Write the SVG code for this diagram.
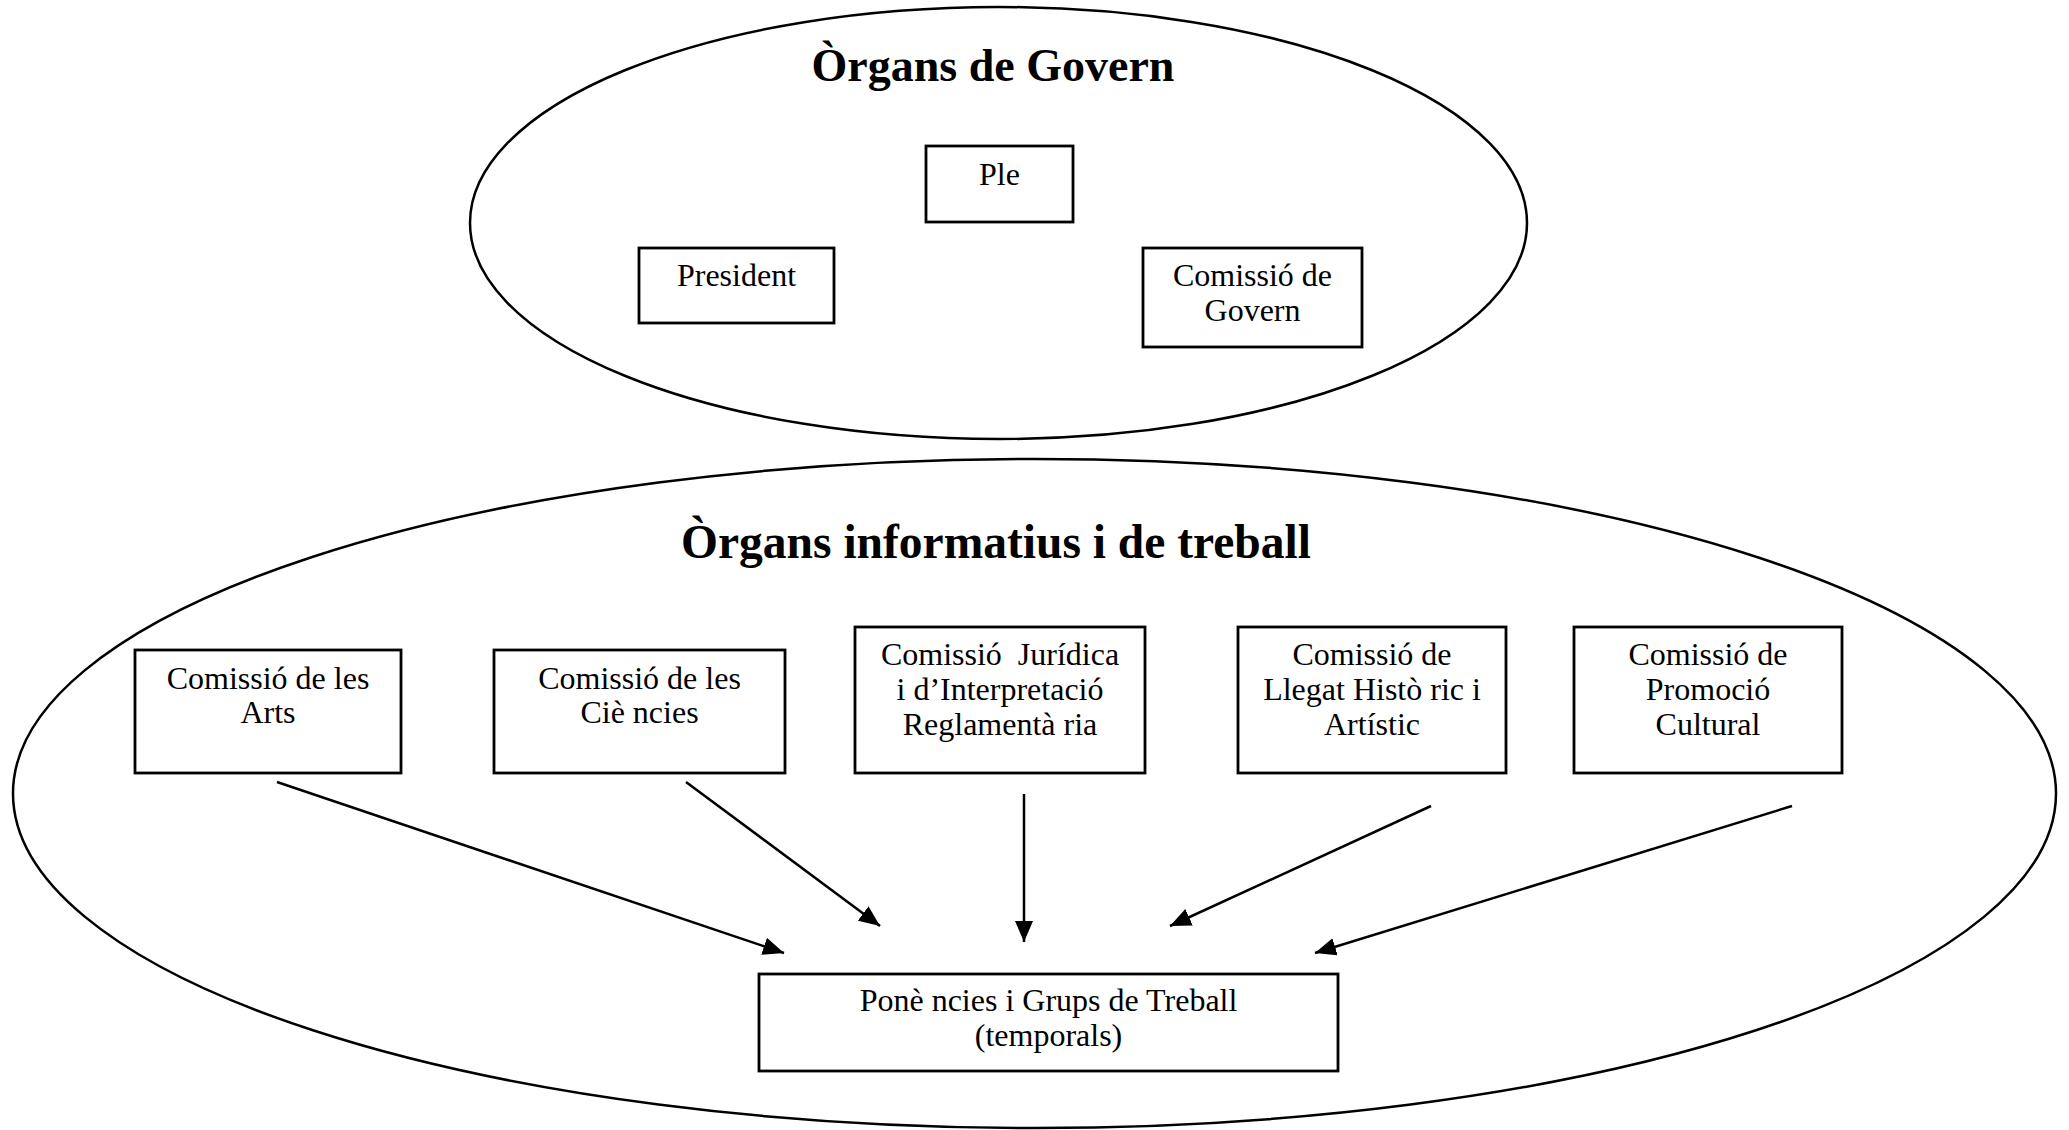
<svg xmlns="http://www.w3.org/2000/svg" width="2069" height="1130" viewBox="0 0 2069 1130">
<style>
.bg{fill:#fff}
.ell{fill:none;stroke:#000;stroke-width:2.5}
.box{fill:#fff;stroke:#000;stroke-width:2.8}
.t{font-family:"Liberation Serif","Times New Roman",serif;font-size:32px;fill:#000;text-anchor:middle}
.title{font-family:"Liberation Serif","Times New Roman",serif;font-size:46px;font-weight:bold;fill:#000;text-anchor:middle}
.con{stroke:#000;stroke-width:2.5;fill:none;marker-end:url(#ah)}
</style>
<defs>
<marker id="ah" markerUnits="userSpaceOnUse" viewBox="0 0 21 18" refX="21" refY="9" markerWidth="21" markerHeight="18" orient="auto">
<path d="M0,0 L21,9 L0,18 Z" fill="#000"/>
</marker>
</defs>
<rect class="bg" x="0" y="0" width="2069" height="1130"/>

<g id="govern-group">
<ellipse class="ell" cx="998.5" cy="223" rx="528.5" ry="216"/>
<text class="title" x="993" y="81">Òrgans de Govern</text>
</g>
<g id="node-ple">
<rect class="box" x="926" y="146" width="147" height="76"/>
<text class="t" x="999.5" y="185">Ple</text>
</g>
<g id="node-president">
<rect class="box" x="639" y="248" width="195" height="75"/>
<text class="t" x="736.5" y="286">President</text>
</g>
<g id="node-comissio-govern">
<rect class="box" x="1143" y="248" width="219" height="99"/>
<text class="t" x="1252.5" y="286">Comissió de</text>
<text class="t" x="1252.5" y="321">Govern</text>
</g>

<g id="treball-group">
<ellipse class="ell" cx="1034.5" cy="793.5" rx="1021.5" ry="334.5"/>
<text class="title" x="996" y="558" style="font-size:47.5px">Òrgans informatius i de treball</text>
</g>
<g id="node-arts">
<rect class="box" x="135" y="650" width="266" height="123"/>
<text class="t" x="268" y="689">Comissió de les</text>
<text class="t" x="268" y="723">Arts</text>
</g>
<g id="node-ciencies">
<rect class="box" x="494" y="650" width="291" height="123"/>
<text class="t" x="639.5" y="689">Comissió de les</text>
<text class="t" x="639.5" y="723">Ciè ncies</text>
</g>
<g id="node-juridica">
<rect class="box" x="855" y="627" width="290" height="146"/>
<text class="t" x="1000" y="665" xml:space="preserve">Comissió  Jurídica</text>
<text class="t" x="1000" y="700">i d’Interpretació</text>
<text class="t" x="1000" y="735">Reglamentà ria</text>
</g>
<g id="node-llegat">
<rect class="box" x="1238" y="627" width="268" height="146"/>
<text class="t" x="1372" y="665">Comissió de</text>
<text class="t" x="1372" y="700">Llegat Histò ric i</text>
<text class="t" x="1372" y="735">Artístic</text>
</g>
<g id="node-promocio">
<rect class="box" x="1574" y="627" width="268" height="146"/>
<text class="t" x="1708" y="665">Comissió de</text>
<text class="t" x="1708" y="700">Promoció</text>
<text class="t" x="1708" y="735">Cultural</text>
</g>
<g id="node-ponencies">
<rect class="box" x="759" y="974" width="579" height="97"/>
<text class="t" x="1048.5" y="1011">Ponè ncies i Grups de Treball</text>
<text class="t" x="1048.5" y="1046">(temporals)</text>
</g>

<g id="connectors">
<line class="con" x1="277" y1="782" x2="784" y2="953"/>
<line class="con" x1="686" y1="782" x2="880" y2="926"/>
<line class="con" x1="1024" y1="794" x2="1024" y2="942"/>
<line class="con" x1="1431" y1="806" x2="1170" y2="926"/>
<line class="con" x1="1792" y1="806" x2="1315" y2="953"/>
</g>
</svg>
